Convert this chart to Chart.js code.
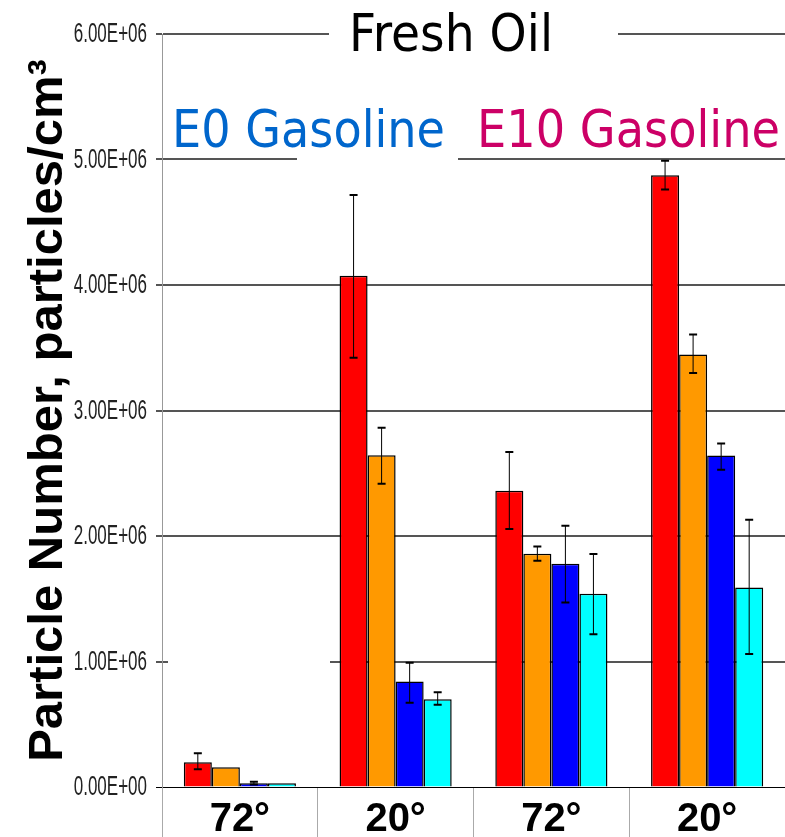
<!DOCTYPE html>
<html lang="en">
<head>
    <meta charset="UTF-8">
    <title>Fresh Oil - Particle Number</title>
    <script src="https://cdn.jsdelivr.net/npm/chart.js@4.4.1/dist/chart.umd.min.js"></script>
    <style>
        body {
            margin: 0;
            padding: 0;
            background: #fff;
        }
        #pnChart {
            display: block;
        }
    </style>
</head>
<body>
    <canvas id="pnChart" width="785" height="837"></canvas>
    <script>
        // categories (temperature), first two are E0 runs, last two E10
        const categories = ['72°', '20°', '72°', '20°'];
        const seriesColors = ['#FF0000', '#FF9900', '#0000FF', '#00FFFF'];

        // mean particle number per series
        const redVals    = [0.197e6, 4.074e6, 2.36e6, 4.875e6];
        const orangeVals = [0.157e6, 2.643e6, 1.858e6, 3.447e6];
        const blueVals   = [0.03e6, 0.84e6, 1.778e6, 2.642e6];
        const cyanVals   = [0.03e6, 0.70e6, 1.539e6, 1.59e6];

        // error bar ranges [low, high], null = none
        const redErr    = [[0.141e6, 0.269e6], [3.42e6, 4.717e6], [2.055e6, 2.669e6], [4.76e6, 4.99e6]];
        const orangeErr = [null, [2.417e6, 2.863e6], [1.802e6, 1.916e6], [3.299e6, 3.605e6]];
        const blueErr   = [[0.02e6, 0.042e6], [0.672e6, 0.99e6], [1.47e6, 2.081e6], [2.528e6, 2.738e6]];
        const cyanErr   = [null, [0.656e6, 0.755e6], [1.218e6, 1.856e6], [1.06e6, 2.13e6]];

        const yTicks = [0, 1e6, 2e6, 3e6, 4e6, 5e6, 6e6];

        function sciLabel(v) {
            if (v === 0) return '0.00E+00';
            const e = Math.floor(Math.log10(v));
            const m = (v / Math.pow(10, e)).toFixed(2);
            return m + 'E+' + String(e).padStart(2, '0');
        }

        // white boxes under the text labels, and the labels themselves
        const labelPlugin = {
            id: 'labelBoxes',
            beforeDatasetsDraw(chart) {
                const ctx = chart.ctx;
                const y = chart.scales.y;
                ctx.save();
                ctx.fillStyle = '#fff';
                ctx.fillRect(329, y.getPixelForValue(6e6) - 4, 289, 8);
                ctx.fillRect(297, y.getPixelForValue(5e6) - 4, 161, 8);
                ctx.fillRect(168, y.getPixelForValue(1e6) - 4, 162, 8);
                ctx.restore();
            },
            afterDraw(chart) {
                const ctx = chart.ctx;
                const y = chart.scales.y;
                const texts = [
                    { t: 'Fresh Oil', x: 349, w: 204, y: 51, c: '#000' },
                    { t: 'E0 Gasoline', x: 172, w: 273, y: 147, c: '#0066CC' },
                    { t: 'E10 Gasoline', x: 477, w: 303, y: 147, c: '#CC0066' }
                ];
                ctx.save();
                ctx.font = '52px "DejaVu Sans"';
                ctx.textBaseline = 'alphabetic';
                ctx.textAlign = 'left';
                texts.forEach(o => {
                    const m = ctx.measureText(o.t).width;
                    ctx.save();
                    ctx.translate(o.x, o.y);
                    ctx.scale(o.w / m, 1);
                    ctx.fillStyle = o.c;
                    ctx.fillText(o.t, 0, 0);
                    ctx.restore();
                });

                // condensed tick labels for the y axis
                ctx.font = '27px "Liberation Sans", Arial, sans-serif';
                ctx.textAlign = 'right';
                ctx.textBaseline = 'middle';
                ctx.fillStyle = '#222';
                y.ticks.forEach(t => {
                    ctx.save();
                    ctx.translate(147, y.getPixelForValue(t.value) + 1);
                    ctx.scale(0.63, 1);
                    ctx.fillText(sciLabel(t.value), 0, 0);
                    ctx.restore();
                });
                ctx.restore();
            }
        };

        const errorBarPlugin = {
            id: 'errorBars',
            afterDatasetsDraw(chart) {
                const ctx = chart.ctx;
                const y = chart.scales.y;
                const errs = [redErr, orangeErr, blueErr, cyanErr];
                ctx.save();
                ctx.strokeStyle = '#000';
                errs.forEach((list, di) => {
                    const meta = chart.getDatasetMeta(di);
                    list.forEach((r, i) => {
                        if (!r) return;
                        const x = meta.data[i].x;
                        const lo = y.getPixelForValue(r[0]);
                        const hi = y.getPixelForValue(r[1]);
                        ctx.lineWidth = 1;
                        ctx.beginPath();
                        ctx.moveTo(x, lo);
                        ctx.lineTo(x, hi);
                        ctx.stroke();
                        ctx.lineWidth = 2;
                        ctx.beginPath();
                        ctx.moveTo(x - 4, lo);
                        ctx.lineTo(x + 4, lo);
                        ctx.moveTo(x - 4, hi);
                        ctx.lineTo(x + 4, hi);
                        ctx.stroke();
                    });
                });
                ctx.restore();
            }
        };

        const allVals = [redVals, orangeVals, blueVals, cyanVals];

        const ctx = document.getElementById('pnChart').getContext('2d');
        new Chart(ctx, {
            type: 'bar',
            data: {
                labels: categories,
                datasets: allVals.map((vals, i) => ({
                    data: vals,
                    backgroundColor: seriesColors[i],
                    borderColor: '#000',
                    borderWidth: 1.5,
                    barPercentage: 1,
                    categoryPercentage: 0.72
                }))
            },
            options: {
                responsive: false,
                animation: false,
                layout: { padding: { top: 34, right: 0, left: 0, bottom: 0 } },
                plugins: {
                    legend: { display: false },
                    tooltip: { enabled: false }
                },
                scales: {
                    x: {
                        afterFit: s => { s.height = 50; },
                        border: { display: false },
                        grid: {
                            offset: true,
                            drawOnChartArea: false,
                            color: '#aaa',
                            lineWidth: 1,
                            tickLength: 50
                        },
                        ticks: {
                            padding: -41,
                            color: '#000',
                            font: { family: '"Liberation Sans", Arial, sans-serif', size: 40, weight: 'bold' }
                        }
                    },
                    y: {
                        min: 0,
                        max: 6e6,
                        afterFit: s => { s.width = 162; },
                        afterBuildTicks: s => { s.ticks = yTicks.map(v => ({ value: v })); },
                        border: { display: true, color: '#999', width: 1 },
                        grid: {
                            color: c => c.tick && c.tick.value === 0 ? '#000' : '#555',
                            lineWidth: c => c.tick && c.tick.value === 0 ? 1 : 2,
                            tickLength: 6
                        },
                        ticks: {
                            display: false,
                            callback: v => sciLabel(v)
                        },
                        title: {
                            display: true,
                            text: 'Particle Number, particles/cm³',
                            color: '#000',
                            padding: { top: 19, bottom: 0 },
                            font: { family: '"Liberation Sans", Arial, sans-serif', size: 49, weight: 'bold' }
                        }
                    }
                }
            },
            plugins: [labelPlugin, errorBarPlugin]
        });
    </script>
</body>
</html>
